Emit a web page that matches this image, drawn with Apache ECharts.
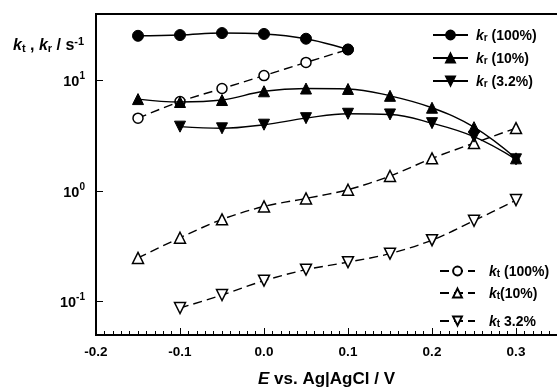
<!DOCTYPE html>
<html>
<head>
<meta charset="utf-8">
<script src="https://cdn.jsdelivr.net/npm/echarts@6/dist/echarts.min.js"></script>
<style>
  html, body { margin: 0; padding: 0; background: #fff; }
  #chart { width: 557px; height: 392px; }
</style>
</head>
<body>
<div id="chart"></div>
<script>
// potentials (V vs Ag|AgCl)
const potentials = [-0.15, -0.1, -0.05, 0.0, 0.05, 0.1, 0.15, 0.2, 0.25, 0.3];

// k_r, solid curves
const kr100 = [25.4, 25.8, 26.9, 26.4, 23.9, 19.1];
const kr10 = [6.8, 6.4, 6.67, 8.0, 8.47, 8.4, 7.28, 5.68, 3.79, 1.98];
const kr32 = [null, 3.83, 3.70, 3.99, 4.57, 5.01, 4.94, 4.12, 3.11, 1.94];

// k_t, dashed curves
const kt100 = [4.57, 6.47, 8.47, 11.1, 14.6, 19.1];
const kt10 = [0.249, 0.379, 0.556, 0.728, 0.859, 1.03, 1.37, 1.98, 2.72, 3.72];
const kt32 = [null, 0.0877, 0.115, 0.155, 0.195, 0.228, 0.272, 0.360, 0.540, 0.830];

const xTicks = [-0.2, -0.1, 0.0, 0.1, 0.2, 0.3];

function pairs(ys) {
  const out = [];
  ys.forEach((y, i) => { if (y != null) out.push([potentials[i], y]); });
  return out;
}

const FONT = 'Liberation Sans, Arial, sans-serif';

const legendRich = {
  k: { fontFamily: FONT, fontSize: 14, fontWeight: 'bold', fontStyle: 'italic', color: '#000', lineHeight: 16, verticalAlign: 'bottom' },
  s: { fontFamily: FONT, fontSize: 10, fontWeight: 'bold', color: '#000', lineHeight: 10, padding: [9, 0, 0, 0], verticalAlign: 'bottom' },
  t: { fontFamily: FONT, fontSize: 14, fontWeight: 'bold', color: '#000', lineHeight: 16, verticalAlign: 'bottom' }
};

const legendText = {
  'kr100': '{k|k}{s|r}{t| (100%)}',
  'kr10': '{k|k}{s|r}{t| (10%)}',
  'kr32': '{k|k}{s|r}{t| (3.2%)}',
  'kt100': '{k|k}{s|t}{t| (100%)}',
  'kt10': '{k|k}{s|t}{t|(10%)}',
  'kt32': '{k|k}{s|t}{t| 3.2%}'
};

function makeSeries(name, ys, opts) {
  return {
    name: name,
    type: 'line',
    data: pairs(ys),
    smooth: opts.smooth,
    symbol: opts.symbol,
    symbolSize: opts.size,
    symbolRotate: opts.rotate || 0,
    z: opts.z || 2,
    lineStyle: { color: '#000', width: 1.4, type: opts.dashed ? [9, 5] : 'solid' },
    itemStyle: opts.open
      ? { color: '#fff', borderColor: '#000', borderWidth: 1.5 }
      : { color: '#000', borderColor: '#000', borderWidth: 1 },
    emphasis: { disabled: true },
    animation: false
  };
}

function legendBox(names, left, top, gap, pad) {
  return {
    data: names,
    orient: 'vertical',
    left: left,
    top: top,
    itemGap: gap,
    itemWidth: 35,
    itemHeight: 11,
    padding: 0,
    selectedMode: false,
    formatter: n => legendText[n],
    textStyle: { rich: legendRich, padding: [0, 0, 0, pad] }
  };
}

const chart = echarts.init(document.getElementById('chart'), null, { renderer: 'canvas' });

chart.setOption({
  animation: false,
  backgroundColor: '#fff',
  // plot runs on past the right edge of the picture, as in the original
  grid: {
    left: 96, top: 14, width: 504, height: 321,
    containLabel: false, outerBoundsMode: 'none',
    show: true, borderColor: '#000', borderWidth: 2
  },
  xAxis: {
    type: 'value',
    min: -0.2,
    max: 0.4,
    interval: 0.1,
    axisLine: { show: true, onZero: false, lineStyle: { color: '#000', width: 2 } },
    axisTick: { show: true, inside: true, length: 7, lineStyle: { color: '#000', width: 1 } },
    minorTick: { show: true, splitNumber: 10, length: 4, lineStyle: { color: '#000', width: 1 } },
    splitLine: { show: false },
    axisLabel: {
      margin: 10,
      fontFamily: FONT,
      fontSize: 13.5,
      fontWeight: 'bold',
      color: '#000',
      formatter: v => xTicks.some(t => Math.abs(t - v) < 1e-9) ? v.toFixed(1) : ''
    }
  },
  yAxis: {
    type: 'log',
    logBase: 10,
    min: 0.05,
    max: 40,
    axisLine: { show: true, onZero: false, lineStyle: { color: '#000', width: 2 } },
    axisTick: { show: true, inside: true, length: 7, lineStyle: { color: '#000', width: 1 } },
    splitLine: { show: false },
    axisLabel: {
      margin: 11,
      showMinLabel: false,
      showMaxLabel: false,
      formatter: v => {
        const p = Math.round(Math.log10(v));
        if (Math.abs(v - Math.pow(10, p)) > 1e-6 * v) return '';
        return '{b|10}{p|' + p + '}';
      },
      rich: {
        b: { fontFamily: FONT, fontSize: 14.5, fontWeight: 'bold', color: '#000', lineHeight: 18, verticalAlign: 'bottom' },
        p: { fontFamily: FONT, fontSize: 10, fontWeight: 'bold', color: '#000', lineHeight: 10, verticalAlign: 'top' }
      }
    }
  },
  legend: [
    legendBox(['kr100', 'kr10', 'kr32'], 432, 24, 4, 3),
    legendBox(['kt100'], 439, 260, 0, 9),
    legendBox(['kt10'], 439, 282, 0, 9),
    legendBox(['kt32'], 439, 310, 0, 9)
  ],
  graphic: [
    {
      type: 'text',
      left: 13,
      top: 33,
      style: {
        text: '{k|k}{s|t}{n| , }{k|k}{s|r}{n| / s}{p|-1}',
        rich: {
          k: { fontFamily: FONT, fontSize: 16, fontWeight: 'bold', fontStyle: 'italic', fill: '#000', lineHeight: 18, verticalAlign: 'bottom' },
          s: { fontFamily: FONT, fontSize: 11, fontWeight: 'bold', fill: '#000', lineHeight: 11, padding: [10, 0, 0, 0], verticalAlign: 'bottom' },
          n: { fontFamily: FONT, fontSize: 16, fontWeight: 'bold', fill: '#000', lineHeight: 18, verticalAlign: 'bottom' },
          p: { fontFamily: FONT, fontSize: 11, fontWeight: 'bold', fill: '#000', lineHeight: 11, verticalAlign: 'top' }
        }
      }
    },
    {
      type: 'text',
      left: 258,
      top: 371,
      style: {
        text: '{e|E}{n| vs. Ag|AgCl / V}',
        rich: {
          e: { fontFamily: FONT, fontSize: 17, fontWeight: 'bold', fontStyle: 'italic', fill: '#000' },
          n: { fontFamily: FONT, fontSize: 17, fontWeight: 'bold', fill: '#000' }
        }
      }
    }
  ],
  series: [
    makeSeries('kt100', kt100, { symbol: 'circle', size: 10, open: true, dashed: true, smooth: 0.3 }),
    makeSeries('kt10', kt10, { symbol: 'triangle', size: 11, open: true, dashed: true, smooth: 0.3 }),
    makeSeries('kt32', kt32, { symbol: 'triangle', size: 11, rotate: 180, open: true, dashed: true, smooth: 0.3 }),
    makeSeries('kr100', kr100, { symbol: 'circle', size: 11, smooth: 0.4, z: 3 }),
    makeSeries('kr10', kr10, { symbol: 'triangle', size: 11, smooth: 0.4, z: 3 }),
    makeSeries('kr32', kr32, { symbol: 'triangle', size: 11, rotate: 180, smooth: 0.4, z: 3 })
  ]
});
</script>
</body>
</html>
